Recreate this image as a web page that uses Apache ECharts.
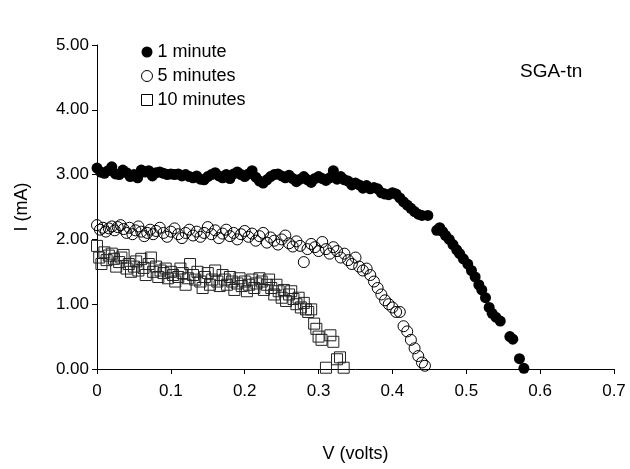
<!DOCTYPE html>
<html>
<head>
<meta charset="utf-8">
<script src="https://cdn.jsdelivr.net/npm/echarts@6/dist/echarts.min.js"></script>
<style>
  html, body { margin: 0; padding: 0; background: #fff; }
  #chart { width: 630px; height: 469px; }
</style>
</head>
<body>
<div id="chart"></div>
<script>
// V (volts) / I (mA)
var v1 = [0.000,0.005,0.010,0.015,0.020,0.025,0.030,0.035,0.040,0.045,
  0.050,0.055,0.060,0.065,0.070,0.075,0.080,0.085,0.090,0.095,
  0.100,0.105,0.110,0.115,0.120,0.125,0.130,0.135,0.140,0.145,
  0.150,0.155,0.160,0.165,0.170,0.175,0.180,0.185,0.190,0.195,
  0.200,0.205,0.210,0.215,0.220,0.225,0.230,0.235,0.240,0.245,
  0.250,0.255,0.260,0.265,0.270,0.275,0.280,0.285,0.290,0.295,
  0.300,0.305,0.310,0.315,0.320,0.325,0.330,0.335,0.340,0.345,
  0.350,0.355,0.360,0.365,0.370,0.375,0.380,0.385,0.390,0.395,
  0.400,0.405,0.410,0.415,0.420,0.425,0.430,0.435,0.440,0.448,
  0.460,0.464,0.468,0.472,0.477,0.482,0.487,0.491,0.496,0.502,
  0.507,0.512,0.517,0.521,0.526,0.531,0.535,0.540,0.546,0.559,
  0.563,0.572,0.578];
var i1 = [3.10,3.04,3.02,3.06,3.12,3.01,3.00,3.07,3.03,2.97,
  3.00,2.95,3.07,3.04,3.06,2.98,3.03,3.04,3.02,3.00,
  3.01,3.00,3.01,2.98,3.00,2.97,2.95,2.98,2.93,2.92,
  2.97,3.00,3.03,2.98,2.95,3.00,2.94,3.01,3.04,3.00,
  2.97,3.01,3.06,2.96,2.90,2.87,2.92,2.97,3.00,3.01,
  2.98,2.95,2.99,2.94,2.89,2.93,2.97,2.92,2.88,2.94,
  2.97,2.94,2.91,2.95,3.06,2.93,2.97,2.92,2.90,2.84,
  2.87,2.84,2.79,2.83,2.78,2.80,2.78,2.72,2.70,2.69,
  2.72,2.70,2.64,2.58,2.53,2.48,2.43,2.39,2.37,2.37,
  2.14,2.18,2.12,2.06,2.00,1.92,1.84,1.78,1.70,1.62,
  1.52,1.42,1.30,1.22,1.10,0.95,0.86,0.80,0.74,0.50,
  0.46,0.16,0.01];

var v5 = [0.000,0.004,0.008,0.012,0.016,0.020,0.024,0.028,0.032,0.036,
  0.040,0.044,0.048,0.052,0.056,0.060,0.064,0.068,0.072,0.076,
  0.080,0.085,0.090,0.095,0.100,0.105,0.110,0.115,0.120,0.125,
  0.130,0.135,0.140,0.145,0.150,0.155,0.160,0.165,0.170,0.175,
  0.180,0.185,0.190,0.195,0.200,0.205,0.210,0.215,0.220,0.225,
  0.230,0.235,0.240,0.245,0.250,0.255,0.260,0.265,0.270,0.275,
  0.280,0.285,0.290,0.295,0.300,0.305,0.310,0.315,0.320,0.325,
  0.330,0.335,0.340,0.345,0.350,0.355,0.360,0.365,0.370,0.375,
  0.380,0.385,0.390,0.395,0.400,0.405,0.410,0.415,0.420,0.425,
  0.430,0.435,0.440,0.444];
var i5 = [2.22,2.15,2.18,2.12,2.17,2.20,2.14,2.19,2.22,2.16,
  2.10,2.18,2.08,2.14,2.20,2.12,2.05,2.10,2.15,2.08,
  2.13,2.18,2.10,2.04,2.12,2.17,2.08,2.02,2.10,2.15,
  2.06,2.12,2.04,2.10,2.19,2.08,2.14,2.02,2.09,2.15,
  2.05,2.10,2.00,2.08,2.13,2.04,2.09,1.98,2.05,2.10,
  1.95,2.03,1.98,1.92,2.00,2.06,1.94,1.89,1.97,1.90,
  1.65,1.85,1.93,1.88,1.82,1.96,1.85,1.78,1.88,1.82,
  1.72,1.78,1.68,1.62,1.72,1.58,1.52,1.55,1.45,1.35,
  1.25,1.15,1.06,1.00,0.95,0.88,0.88,0.66,0.58,0.45,
  0.32,0.20,0.10,0.05];

var v10 = [0.000,0.003,0.006,0.010,0.013,0.016,0.020,0.023,0.026,0.030,
  0.033,0.036,0.040,0.043,0.046,0.050,0.053,0.056,0.060,0.063,
  0.066,0.070,0.073,0.076,0.080,0.083,0.086,0.090,0.093,0.096,
  0.100,0.103,0.106,0.110,0.113,0.116,0.120,0.123,0.126,0.130,
  0.133,0.136,0.140,0.143,0.146,0.150,0.153,0.156,0.160,0.163,
  0.166,0.170,0.173,0.176,0.180,0.183,0.186,0.190,0.193,0.196,
  0.200,0.203,0.206,0.210,0.213,0.216,0.220,0.223,0.226,0.230,
  0.233,0.236,0.240,0.243,0.246,0.250,0.253,0.256,0.260,0.263,
  0.266,0.270,0.273,0.276,0.280,0.283,0.286,0.290,0.294,0.297,
  0.300,0.304,0.310,0.316,0.320,0.325,0.329,0.334];
var i10 = [1.90,1.72,1.62,1.80,1.68,1.75,1.78,1.70,1.58,1.65,
  1.72,1.76,1.55,1.62,1.50,1.58,1.66,1.52,1.70,1.56,
  1.45,1.62,1.72,1.50,1.58,1.42,1.52,1.48,1.55,1.40,
  1.50,1.45,1.35,1.42,1.55,1.48,1.30,1.40,1.62,1.45,
  1.38,1.50,1.35,1.25,1.42,1.48,1.30,1.38,1.52,1.35,
  1.28,1.45,1.38,1.30,1.42,1.35,1.22,1.32,1.40,1.28,
  1.35,1.20,1.30,1.38,1.25,1.32,1.40,1.35,1.22,1.30,
  1.38,1.25,1.15,1.30,1.20,1.10,1.22,1.05,1.15,1.20,
  1.08,1.00,1.10,0.95,1.02,0.92,0.88,0.92,0.70,0.62,
  0.50,0.45,0.02,0.52,0.42,0.15,0.18,0.02];

var seriesNames = ["1 minute", "5 minutes", "10 minutes"];
var xTicks = [0, 0.7, 0.1];
var yTicks = [0, 5, 1];

function pairs(v, i) {
  return v.map(function (x, k) { return [x, i[k]]; });
}

var font = "Arial, 'Liberation Sans', sans-serif";
var myChart = echarts.init(document.getElementById("chart"));

myChart.setOption({
  animation: false,
  backgroundColor: "#fff",
  grid: { left: 97, right: 16, top: 45, bottom: 100 },
  legend: {
    orient: "vertical",
    left: 136,
    top: 38,
    itemWidth: 11,
    itemHeight: 11,
    itemGap: 6,
    textStyle: { fontFamily: font, fontSize: 18, color: "#000" },
    data: [
      { name: seriesNames[0], icon: "circle", itemStyle: { color: "#000", borderWidth: 0 } },
      { name: seriesNames[1], icon: "circle", itemStyle: { color: "#fff", borderColor: "#000", borderWidth: 1 } },
      { name: seriesNames[2], icon: "rect", itemStyle: { color: "#fff", borderColor: "#000", borderWidth: 1 } }
    ]
  },
  graphic: [{
    type: "text",
    left: 520,
    top: 62,
    style: { text: "SGA-tn", fontFamily: font, fontSize: 19, fill: "#000" }
  }],
  xAxis: {
    type: "value",
    min: xTicks[0],
    max: xTicks[1],
    interval: xTicks[2],
    name: "V (volts)",
    nameLocation: "middle",
    nameGap: 76,
    nameTextStyle: { fontFamily: font, fontSize: 18, color: "#000" },
    axisLine: { lineStyle: { color: "#000", width: 1 } },
    axisTick: { show: true, length: 5, lineStyle: { color: "#000" } },
    axisLabel: {
      fontFamily: font, fontSize: 17, color: "#000", margin: 14,
      formatter: function (val) { return val === 0 ? "0" : val.toFixed(1); }
    },
    splitLine: { show: false }
  },
  yAxis: {
    type: "value",
    min: yTicks[0],
    max: yTicks[1],
    interval: yTicks[2],
    name: "I (mA)",
    nameLocation: "middle",
    nameGap: 66,
    nameTextStyle: { fontFamily: font, fontSize: 18, color: "#000" },
    axisLine: { show: true, lineStyle: { color: "#000", width: 1 } },
    axisTick: { show: true, length: 5, lineStyle: { color: "#000" } },
    axisLabel: {
      fontFamily: font, fontSize: 17, color: "#000", margin: 8,
      formatter: function (val) { return val.toFixed(2); }
    },
    splitLine: { show: false }
  },
  series: [
    {
      name: seriesNames[0],
      type: "scatter",
      symbol: "circle",
      symbolSize: 11,
      itemStyle: { color: "#000", opacity: 1 },
      data: pairs(v1, i1),
      z: 3
    },
    {
      name: seriesNames[1],
      type: "scatter",
      symbol: "circle",
      symbolSize: 11,
      itemStyle: { color: "rgba(0,0,0,0)", borderColor: "#000", borderWidth: 1, opacity: 1 },
      data: pairs(v5, i5),
      z: 2
    },
    {
      name: seriesNames[2],
      type: "scatter",
      symbol: "rect",
      symbolSize: 11,
      itemStyle: { color: "rgba(0,0,0,0)", borderColor: "#222", borderWidth: 1, opacity: 1 },
      data: pairs(v10, i10),
      z: 1
    }
  ]
});
</script>
</body>
</html>
